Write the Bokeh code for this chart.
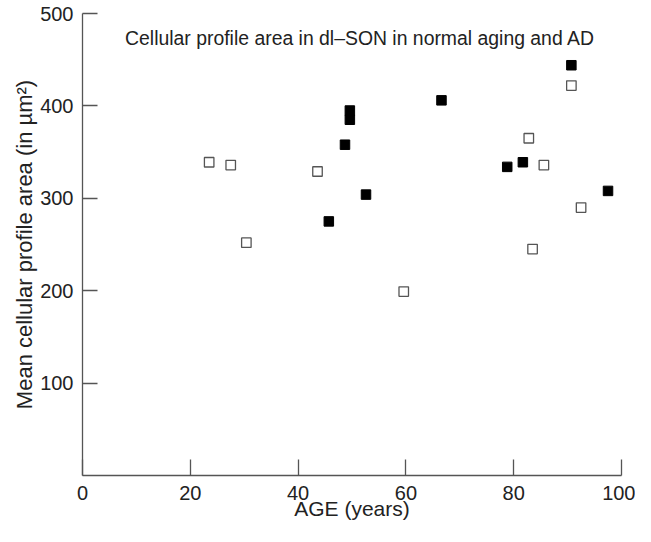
from bokeh.plotting import figure
from bokeh.models import Range1d, FixedTicker, Label, ColumnDataSource
from bokeh.embed import file_html
from bokeh.resources import INLINE

# Normal aging (open squares)
normal_age = [23.5, 27.5, 30.4, 43.6, 59.6, 82.8, 83.5, 85.6, 90.7, 92.5]
normal_area = [339, 336, 252, 329, 199, 365, 245, 336, 422, 290]

# Alzheimer's disease (filled squares)
ad_age = [45.7, 48.7, 49.6, 49.6, 52.6, 66.6, 78.8, 81.7, 90.7, 97.5]
ad_area = [275, 358, 385, 395, 304, 406, 334, 339, 444, 308]

x_ticks = [0, 20, 40, 60, 80, 100]
y_ticks = [100, 200, 300, 400, 500]

FONT = "Liberation Sans"
TXT = "#222222"

p = figure(width=635, height=526, output_backend="svg", toolbar_location=None,
           x_range=Range1d(0, 100), y_range=Range1d(0, 500),
           min_border_left=82, min_border_right=14, min_border_top=13, min_border_bottom=51)
p.outline_line_color = None
p.xgrid.visible = False
p.ygrid.visible = False
p.background_fill_color = "white"
p.border_fill_color = "white"

for ax in (p.xaxis[0], p.yaxis[0]):
    ax.axis_line_color = "#555555"
    ax.axis_line_width = 1.3
    ax.major_tick_line_color = "#555555"
    ax.major_tick_line_width = 1.3
    ax.major_tick_out = 0
    ax.minor_tick_line_color = None
    ax.major_label_text_font = FONT
    ax.major_label_text_font_size = "20px"
    ax.major_label_text_color = TXT
    ax.axis_label_text_font = FONT
    ax.axis_label_text_font_style = "normal"
    ax.axis_label_text_color = TXT

p.xaxis.ticker = FixedTicker(ticks=x_ticks)
p.yaxis.ticker = FixedTicker(ticks=y_ticks)
p.xaxis.major_tick_in = 16
p.yaxis.major_tick_in = 15
p.xaxis.major_label_standoff = 10
p.yaxis.major_label_standoff = 9
p.xaxis.axis_label = "AGE (years)"
p.xaxis.axis_label_text_font_size = "21px"
p.xaxis.axis_label_standoff = -6
p.yaxis.axis_label = "Mean cellular profile area (in µm²)"
p.yaxis.axis_label_text_font_size = "22px"
p.yaxis.axis_label_standoff = 0

src_n = ColumnDataSource(dict(x=normal_age, y=normal_area))
src_a = ColumnDataSource(dict(x=ad_age, y=ad_area))
p.scatter("x", "y", source=src_n, marker="square", size=9.5,
          fill_color="white", line_color="#555555", line_width=1.3)
p.scatter("x", "y", source=src_a, marker="square", size=9.5,
          fill_color="black", line_color="black", line_width=1)

title = Label(x=7.9, y=473, text="Cellular profile area in dl–SON in normal aging and AD",
              text_font=FONT, text_font_size="19.4px", text_color=TXT,
              text_baseline="alphabetic", text_align="left")
p.add_layout(title)

open("out.html", "w").write(file_html(p, INLINE))
